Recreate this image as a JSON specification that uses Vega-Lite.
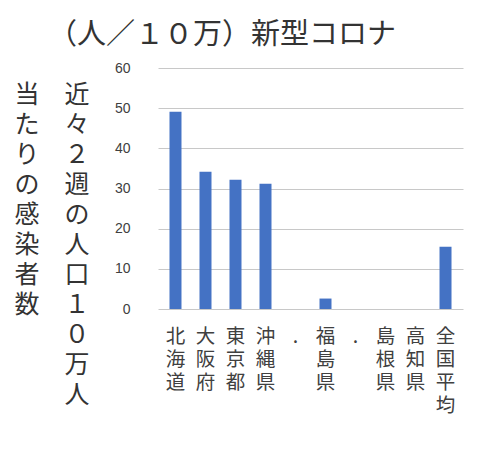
{
  "$schema": "https://vega.github.io/schema/vega-lite/v6.json",
  "background": "white",
  "autosize": {"type": "none"},
  "padding": {"left": 158, "top": 68, "right": 17, "bottom": 140},
  "width": 305,
  "height": 241,
  "title": {
    "text": "（人／１０万）新型コロナ",
    "anchor": "start",
    "frame": "group",
    "dx": -110,
    "offset": 11,
    "font": "Noto Sans CJK JP",
    "fontSize": 29,
    "fontWeight": "normal",
    "color": "#333333"
  },
  "data": {
    "values": [
      {"pref": "北海道", "cases": 49.1},
      {"pref": "大阪府", "cases": 34.2},
      {"pref": "東京都", "cases": 32.2},
      {"pref": "沖縄県", "cases": 31.2},
      {"pref": "_1", "cases": 0},
      {"pref": "福島県", "cases": 2.6},
      {"pref": "_2", "cases": 0},
      {"pref": "島根県", "cases": 0},
      {"pref": "高知県", "cases": 0},
      {"pref": "全国平均", "cases": 15.5}
    ]
  },
  "mark": {"type": "bar", "color": "#4472C4"},
  "encoding": {
    "x": {
      "field": "pref",
      "type": "nominal",
      "sort": null,
      "scale": {"paddingInner": 0.6, "paddingOuter": 0.383},
      "axis": {
        "title": null,
        "domain": false,
        "ticks": false,
        "grid": false,
        "labelAngle": 0,
        "labelAlign": "center",
        "labelBaseline": "top",
        "labelExpr": "indexof(datum.label, '_') == 0 ? ['.'] : split(datum.label, '')",
        "labelFont": "Noto Sans CJK JP",
        "labelFontSize": 19.5,
        "labelLineHeight": 23,
        "labelPadding": 18,
        "labelColor": "#404040",
        "labelLimit": 0,
        "labelOverlap": false
      }
    },
    "y": {
      "field": "cases",
      "type": "quantitative",
      "scale": {"domain": [0, 60]},
      "axis": {
        "values": [0, 10, 20, 30, 40, 50, 60],
        "domain": false,
        "ticks": false,
        "grid": true,
        "gridColor": "#c8c8c8",
        "labelFont": "Liberation Sans",
        "labelFontSize": 14,
        "labelColor": "#404040",
        "labelPadding": 28,
        "title": [
          "当　近",
          "た　々",
          "り　２",
          "の　週",
          "感　の",
          "染　人",
          "者　口",
          "数　１",
          "０",
          "万",
          "人"
        ],
        "titleAngle": 0,
        "titleAlign": "right",
        "titleBaseline": "top",
        "titleX": -69,
        "titleY": 14,
        "titleFont": "Noto Sans CJK JP",
        "titleFontSize": 25,
        "titleFontWeight": "normal",
        "titleLineHeight": 30,
        "titleColor": "#333333"
      }
    }
  },
  "config": {"view": {"stroke": null}}
}
